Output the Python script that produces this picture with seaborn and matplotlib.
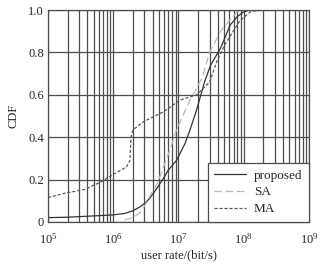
import numpy as np
import pandas as pd
import seaborn as sns
import matplotlib.pyplot as plt
from matplotlib.ticker import LogLocator, FixedLocator

sns.set_style("white")
plt.rcParams['font.family'] = ['Liberation Serif', 'DejaVu Serif']
plt.rcParams['mathtext.fontset'] = 'stix'

# values (rate in bit/s, CDF)
proposed_rate = [1e5, 2e5, 6.6e5, 1e6, 1.5e6, 2e6, 2.6e6, 3.1e6, 3.6e6, 4.7e6, 5.9e6, 7e6,
                 9.3e6, 1.26e7, 1.5e7, 1.9e7, 2.5e7, 3.1e7, 4.4e7, 6.2e7, 8e7, 9.8e7, 1.2e8]
proposed_cdf = [0.02, 0.022, 0.03, 0.033, 0.04, 0.052, 0.072, 0.09, 0.11, 0.16, 0.206, 0.245,
                0.29, 0.37, 0.434, 0.53, 0.66, 0.74, 0.82, 0.93, 0.97, 0.99, 1.0]

sa_rate = [1.5e6, 2.0e6, 2.6e6, 3.1e6, 3.6e6, 4.7e6, 5.9e6, 7.4e6, 9.3e6, 1.2e7, 1.5e7,
           2.3e7, 3.0e7, 4.4e7, 6.2e7, 7.8e7, 1.0e8]
sa_cdf = [0.01, 0.02, 0.045, 0.08, 0.12, 0.18, 0.26, 0.34, 0.434, 0.51, 0.575,
          0.68, 0.80, 0.90, 0.955, 0.99, 1.0]

ma_rate = [1e5, 1.8e5, 3.7e5, 6.6e5, 9.5e5, 1.6e6, 1.8e6, 1.87e6, 2.0e6, 2.9e6, 5.9e6,
           1.05e7, 1.9e7, 3.0e7, 3.85e7, 5.2e7, 8.7e7, 1.3e8, 2.0e8]
ma_cdf = [0.115, 0.135, 0.154, 0.19, 0.22, 0.26, 0.29, 0.40, 0.434, 0.473, 0.52,
          0.575, 0.60, 0.66, 0.756, 0.84, 0.95, 0.995, 1.0]

fig = plt.figure(figsize=(3.33, 2.67), dpi=100)
ax = fig.add_axes([0.144, 0.169, 0.784, 0.793])

ax.set_xscale('log')
sns.lineplot(x=proposed_rate, y=proposed_cdf, ax=ax, color='0.2', lw=0.9, label='proposed')
sns.lineplot(x=sa_rate, y=sa_cdf, ax=ax, color='0.72', lw=0.9, dashes=False,
             linestyle=(0, (6, 3)), label='SA')
sns.lineplot(x=ma_rate, y=ma_cdf, ax=ax, color='0.35', lw=0.9,
             linestyle=(0, (2.5, 1.5)), label='MA')

ax.set_xlim(1e5, 1e9)
ax.set_ylim(0, 1)
ax.xaxis.set_major_locator(LogLocator(base=10, numticks=10))
ax.xaxis.set_minor_locator(LogLocator(base=10, subs=np.arange(2, 10), numticks=100))
ax.yaxis.set_major_locator(FixedLocator([0, 0.2, 0.4, 0.6, 0.8, 1.0]))
ax.set_yticklabels(['0', '0.2', '0.4', '0.6', '0.8', '1.0'])
ax.grid(True, which='both', color='0.3', lw=0.9)
ax.tick_params(which='both', length=0, labelsize=9, colors='0.15')
ax.tick_params(axis='x', pad=7)
ax.tick_params(axis='y', pad=3)
ax.xaxis.set_minor_formatter(plt.NullFormatter())
for s in ax.spines.values():
    s.set_color('0.3')
    s.set_linewidth(0.9)

ax.set_xlabel('user rate/(bit/s)', fontsize=9, labelpad=2, color='0.15')
ax.set_ylabel('CDF', fontsize=9, labelpad=6, color='0.15')

leg = ax.legend(loc='lower right', fontsize=9.5, frameon=True, fancybox=False,
                borderaxespad=0, handlelength=2.4, handletextpad=0.6,
                labelspacing=0.35, borderpad=0.5, framealpha=1)
leg.get_frame().set_edgecolor('0.3')
leg.get_frame().set_linewidth(0.9)

fig.savefig('out.png', dpi=100)
